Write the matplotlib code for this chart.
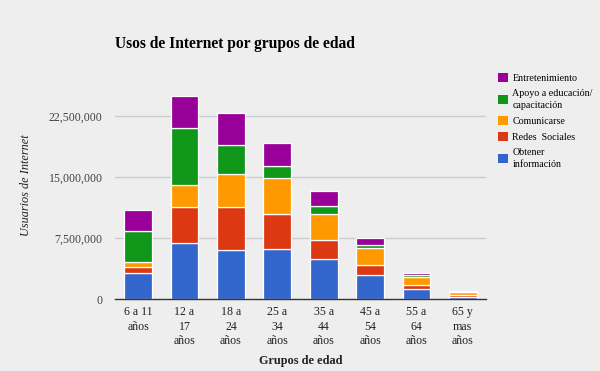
import matplotlib
matplotlib.use("Agg")
import matplotlib.pyplot as plt
import numpy as np
from matplotlib.patches import Patch

GROUPS = ["6 a 11\naños", "12 a\n17\naños", "18 a\n24\naños", "25 a\n34\naños",
          "35 a\n44\naños", "45 a\n54\naños", "55 a\n64\naños", "65 y\nmas\naños"]

# values in millions of users, bottom to top
obtener = [3.15, 6.9, 6.0, 6.2, 4.9, 2.9, 1.2, 0.3]
redes = [0.75, 4.35, 5.3, 4.2, 2.3, 1.25, 0.5, 0.15]
comunicarse = [0.7, 2.7, 4.0, 4.4, 3.25, 2.1, 1.05, 0.35]
apoyo = [3.7, 7.0, 3.6, 1.5, 0.95, 0.35, 0.15, 0.05]
entretenimiento = [2.65, 4.0, 4.0, 2.9, 1.9, 0.95, 0.35, 0.1]

SERIES = [
    ("Obtener\ninformación", obtener, "#3366cc"),
    ("Redes  Sociales", redes, "#dc3912"),
    ("Comunicarse", comunicarse, "#ff9900"),
    ("Apoyo a educación/\ncapacitación", apoyo, "#109618"),
    ("Entretenimiento", entretenimiento, "#990099"),
]
YTICKS = [0, 7_500_000, 15_000_000, 22_500_000]
BG = "#eeeeee"

plt.rcParams["font.family"] = ["Liberation Serif", "DejaVu Serif"]

fig = plt.figure(figsize=(6.0, 3.71), dpi=100, facecolor=BG)
ax = fig.add_axes([115 / 600, 72 / 371, 371 / 600, 228 / 371], facecolor=BG)

x = np.arange(len(GROUPS))
bottom = np.zeros(len(GROUPS))
handles = []
for label, vals, color in SERIES:
    v = np.asarray(vals) * 1e6
    ax.bar(x, v, width=0.6, bottom=bottom, color=color, edgecolor="white",
           linewidth=0.9, zorder=3)
    bottom += v
    handles.append(Patch(facecolor=color, edgecolor="none", label=label))

ax.set_xlim(-0.5, len(GROUPS) - 0.5)
ax.set_ylim(0, 28_000_000)
ax.set_yticks(YTICKS)
ax.set_yticklabels([f"{t:,}" for t in YTICKS], fontsize=8.6, color="#444444")
ax.set_xticks(x)
ax.set_xticklabels(GROUPS, fontsize=8.6, color="#222222", linespacing=1.3, va="top")
ax.tick_params(axis="y", length=0, pad=9)
ax.tick_params(axis="x", length=0, pad=5)
for t in YTICKS[1:]:
    ax.axhline(t, color="#cccccc", lw=1, zorder=1)
for s in ["top", "right", "left"]:
    ax.spines[s].set_visible(False)
ax.spines["bottom"].set_color("#333333")
ax.spines["bottom"].set_linewidth(1)
ax.spines["bottom"].set_zorder(4)

ax.set_ylabel("Usuarios de Internet", fontsize=8.8, style="italic", color="#222222")
ax.yaxis.set_label_coords(-0.225, 0.5)
ax.set_xlabel("Grupos de edad", fontsize=8.8, fontweight="bold", color="#222222")
ax.xaxis.set_label_coords(0.5, -0.245)

fig.text(115 / 600, 1 - 44 / 371, "Usos de Internet por grupos de edad",
         fontsize=11.2, fontweight="bold", va="center", ha="left")

leg = fig.legend(handles=handles[::-1], loc="upper left",
                 bbox_to_anchor=(490 / 600, 1 - 65 / 371), frameon=False,
                 fontsize=7.2, handlelength=1.0, handleheight=1.0,
                 handletextpad=0.45, labelspacing=0.6, borderpad=0.3)
for t in leg.get_texts():
    t.set_linespacing(1.45)

fig.savefig("out.png", dpi=100, facecolor=BG)
